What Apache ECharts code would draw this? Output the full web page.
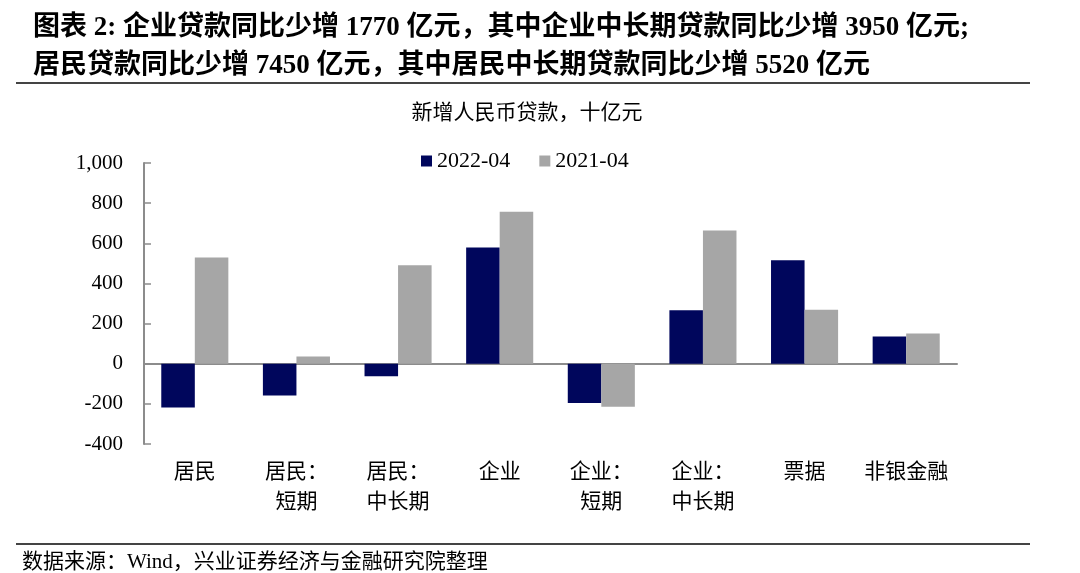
<!DOCTYPE html>
<html><head><meta charset="utf-8">
<script src="https://cdn.jsdelivr.net/npm/echarts@6/dist/echarts.min.js"></script>
<style>html,body{margin:0;padding:0;background:#fff}#c{width:1080px;height:573px}</style>
</head><body><div id="c"></div>
<script>
const categories = ['居民', '居民：\n短期', '居民：\n中长期', '企业', '企业：\n短期', '企业：\n中长期', '票据', '非银金融'];
const series2022 = [-218, -158, -62, 579, -196, 266, 515, 136];
const series2021 = [529, 36, 490, 757, -215, 664, 269, 151];
const seriesNames = ['2022-04', '2021-04'];
const yTicks = {min: -400, max: 1000, interval: 200};

const serif = '"Times New Roman","Liberation Serif","Noto Sans CJK SC",serif';
const chart = echarts.init(document.getElementById('c'));
chart.setOption({
  animation: false,
  backgroundColor: '#fff',
  title: [
    {text: '图表 2: 企业贷款同比少增 1770 亿元，其中企业中长期贷款同比少增 3950 亿元;\n居民贷款同比少增 7450 亿元，其中居民中长期贷款同比少增 5520 亿元',
     left: 28, top: 4,
     textStyle: {fontFamily: serif, fontSize: 27, fontWeight: 'bold', color: '#000', lineHeight: 38}},
    {text: '新增人民币贷款，十亿元', left: 522, top: 98, textAlign: 'center',
     textStyle: {fontFamily: serif, fontSize: 21, fontWeight: 'normal', color: '#000'}},
    {text: '数据来源：Wind，兴业证券经济与金融研究院整理', left: 17, top: 547,
     textStyle: {fontFamily: serif, fontSize: 21, fontWeight: 'normal', color: '#000'}}
  ],
  graphic: [
    {type: 'line', shape: {x1: 16, y1: 83, x2: 1030, y2: 83}, style: {stroke: '#444', lineWidth: 2}},
    {type: 'line', shape: {x1: 16, y1: 544, x2: 1030, y2: 544}, style: {stroke: '#444', lineWidth: 2}}
  ],
  legend: {
    top: 145, left: 416, itemWidth: 11, itemHeight: 11, itemGap: 29, icon: 'rect',
    textStyle: {fontFamily: serif, fontSize: 22, color: '#000'},
    data: seriesNames
  },
  grid: {left: 144, right: 123, top: 163, bottom: 129},
  xAxis: [
    {type: 'category', data: categories,
     axisLine: {onZero: true, lineStyle: {color: '#8c8c8c', width: 2}},
     axisTick: {inside: true, length: 6, lineStyle: {color: '#8c8c8c', width: 1.5}},
     axisLabel: {show: false}},
    {type: 'category', data: categories, position: 'bottom',
     axisLine: {show: false, onZero: false}, axisTick: {show: false},
     axisLabel: {margin: 13, fontFamily: serif, fontSize: 21, color: '#000', lineHeight: 30, interval: 0}}
  ],
  yAxis: {
    type: 'value', min: yTicks.min, max: yTicks.max, interval: yTicks.interval,
    splitLine: {show: false},
    axisLine: {show: true, lineStyle: {color: '#8c8c8c', width: 2}},
    axisTick: {show: true, inside: true, length: 7, lineStyle: {color: '#8c8c8c', width: 1.5}},
    axisLabel: {fontFamily: serif, fontSize: 21, color: '#000', margin: 21,
      formatter: v => v.toLocaleString('en-US')}
  },
  series: [
    {name: seriesNames[0], type: 'bar', data: series2022, xAxisIndex: 0,
     itemStyle: {color: '#00065c'}, barGap: '0%', barCategoryGap: '34%'},
    {name: seriesNames[1], type: 'bar', data: series2021, xAxisIndex: 0,
     itemStyle: {color: '#a6a6a6'}, barGap: '0%', barCategoryGap: '34%'}
  ]
});
</script></body></html>
